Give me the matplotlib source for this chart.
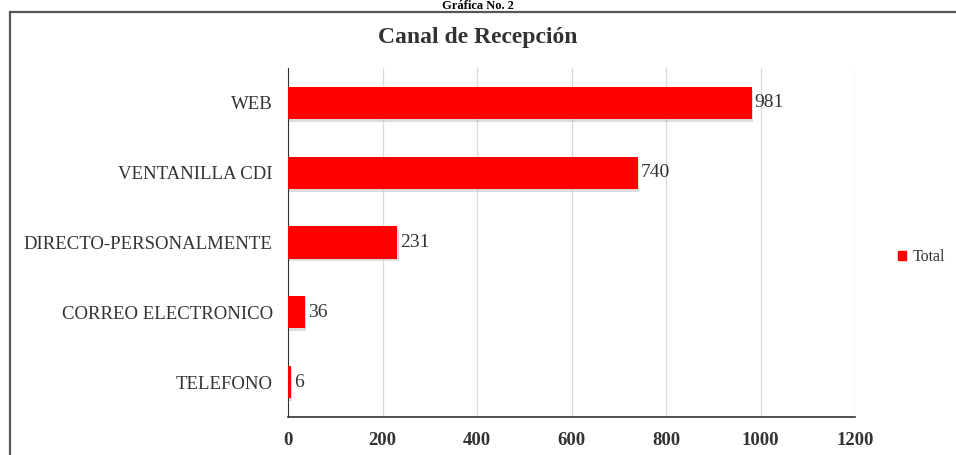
import matplotlib.pyplot as plt
from matplotlib.patches import Rectangle

# ==========================
# DATA
# ==========================

categories = ["WEB", "VENTANILLA CDI", "DIRECTO-PERSONALMENTE",
              "CORREO ELECTRONICO", "TELEFONO"]
values = [981, 740, 231, 36, 6]
x_ticks = [0, 200, 400, 600, 800, 1000, 1200]

RED = "#ff0000"
TEXT = "#333333"
SERIF = ["Liberation Serif", "DejaVu Serif"]

plt.rcParams["font.family"] = SERIF

# ==========================
# FIGURE
# ==========================

fig = plt.figure(figsize=(9.56, 4.55), dpi=100)

# outer chart frame (cut by the page edge on right and bottom)
fig.patches.append(Rectangle((10 / 956, -0.05), 1.0, 1 - 12 / 455 + 0.05,
                             transform=fig.transFigure, fill=False,
                             edgecolor="#555555", linewidth=1.6))

fig.text(0.5, 0.999, "Gráfica No. 2", ha="center", va="top",
         fontsize=9, fontweight="bold")
fig.text(0.5, 1 - 38 / 455, "Canal de Recepción", ha="center",
         va="center", fontsize=17, fontweight="bold", color=TEXT)

ax = fig.add_axes([288 / 956, 1 - 417 / 455, (855 - 288) / 956,
                   (417 - 68) / 455])

y_pos = list(range(len(categories)))

# soft shadow behind bars
ax.barh([y + 0.04 for y in y_pos], values, height=0.46, left=3,
        color="#bbbbbb", alpha=0.5, zorder=2)
ax.barh(y_pos, values, height=0.46, color=RED, zorder=3)

for y, v in zip(y_pos, values):
    ax.text(v + 7, y, str(v), va="center", ha="left", fontsize=14,
            color=TEXT)

ax.set_yticks(y_pos)
ax.set_yticklabels(categories, fontsize=13.5, color=TEXT)
ax.set_ylim(len(categories) - 0.5, -0.5)

ax.set_xlim(0, 1200)
ax.set_xticks(x_ticks)
ax.set_xticklabels([str(t) for t in x_ticks], fontsize=13.5,
                   fontweight="bold", color=TEXT)

ax.grid(axis="x", color="#d9d9d9", linewidth=0.9, zorder=0)
ax.set_axisbelow(True)

for side in ["top", "right"]:
    ax.spines[side].set_visible(False)
ax.spines["left"].set_color(TEXT)
ax.spines["bottom"].set_color(TEXT)
ax.spines["bottom"].set_linewidth(1.2)
ax.tick_params(axis="y", length=0, pad=11)
ax.tick_params(axis="x", length=0, pad=11)

# legend
fig.legend(handles=[Rectangle((0, 0), 1, 1, color=RED)],
           labels=["Total"], loc="center left",
           bbox_to_anchor=(888 / 956, 1 - 257 / 455), frameon=False,
           handlelength=0.55, handleheight=0.55, handletextpad=0.4,
           borderaxespad=0.2,
           prop={"family": SERIF, "size": 11.5}, labelcolor=TEXT)

plt.savefig("out.png", dpi=100)
plt.close()
